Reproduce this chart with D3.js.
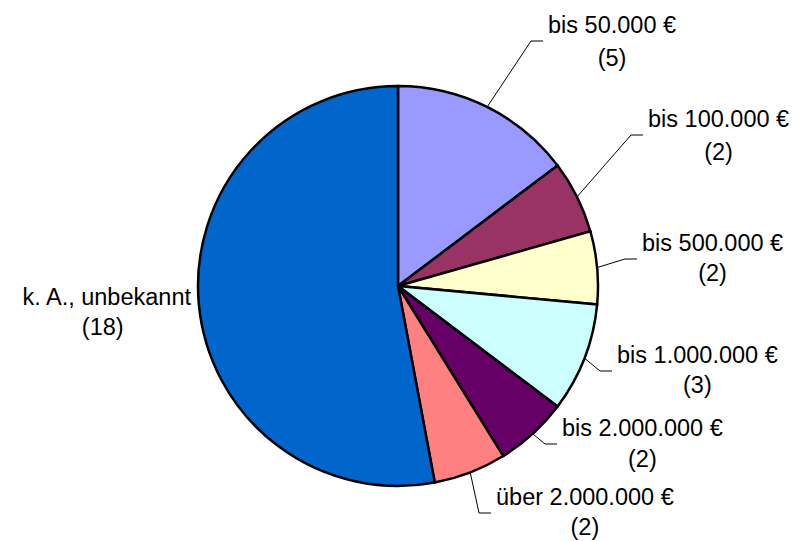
<!DOCTYPE html>
<html>
<head>
<meta charset="UTF-8" />
<style>
    body { margin: 0; padding: 0; background: #fff; }
    text { font-family: "Liberation Sans", Arial, sans-serif; font-size: 23.5px; fill: #000; }
    .slice { stroke: #000; stroke-width: 2.5px; }
    .leader { fill: none; stroke: #000; stroke-width: 1px; }
</style>
<title>Pie</title>
</head>
<body>
<svg width="800" height="541"></svg>
<script src="https://d3js.org/d3.v7.min.js"></script>
<script>
    // data
    const categories = ["bis 50.000 €", "bis 100.000 €", "bis 500.000 €", "bis 1.000.000 €",
        "bis 2.000.000 €", "über 2.000.000 €", "k. A., unbekannt"];
    const counts = [5, 2, 2, 3, 2, 2, 18];
    const colors = ["#9999FF", "#993366", "#FFFFCC", "#CCFFFF", "#660066", "#FF8080", "#0066CC"];

    // label layout: left x (or right x for k.A.), first baseline y
    const labelLeft = [548, 648, 642, 617, 562, 496, 191];
    const labelBase = [33, 127, 251, 363, 436, 505, 305];
    const lineGap = [33, 33, 30, 30, 31, 30, 30];
    const secondShift = [0, 0, 0, 0, 0, 0, -4];
    const hasLeader = [true, true, true, true, true, true, false];

    const svg = d3.select("svg");
    const cx = 398, cy = 286, r = 200;
    const g = svg.append("g").attr("transform", `translate(${cx},${cy})`);

    const pie = d3.pie().sort(null).value(d => d.v);
    const arcs = pie(counts.map((v, i) => ({ v, i })));
    const arc = d3.arc().innerRadius(0).outerRadius(r);

    g.selectAll(".slice")
        .data(arcs)
        .enter().append("path")
        .attr("class", "slice")
        .attr("fill", d => colors[d.data.i])
        .attr("d", arc);

    // leader lines
    arcs.forEach(d => {
        const i = d.data.i;
        if (!hasLeader[i]) return;
        const a = (d.startAngle + d.endAngle) / 2;
        const sx = cx + r * Math.sin(a), sy = cy - r * Math.cos(a);
        const ey = labelBase[i] + 8;
        const ex = labelLeft[i] - 5;
        svg.append("path").attr("class", "leader")
            .attr("d", `M${sx},${sy} L${ex - 12},${ey} L${ex},${ey}`);
    });

    // labels
    arcs.forEach(d => {
        const i = d.data.i;
        const right = !hasLeader[i];
        const t1 = svg.append("text")
            .attr("x", labelLeft[i])
            .attr("y", labelBase[i])
            .attr("text-anchor", right ? "end" : "start")
            .text(categories[i]);
        const w = t1.node().getComputedTextLength();
        const mid = right ? labelLeft[i] - w / 2 : labelLeft[i] + w / 2;
        svg.append("text")
            .attr("x", mid + secondShift[i])
            .attr("y", labelBase[i] + lineGap[i])
            .attr("text-anchor", "middle")
            .text("(" + counts[i] + ")");
    });
</script>
</body>
</html>
